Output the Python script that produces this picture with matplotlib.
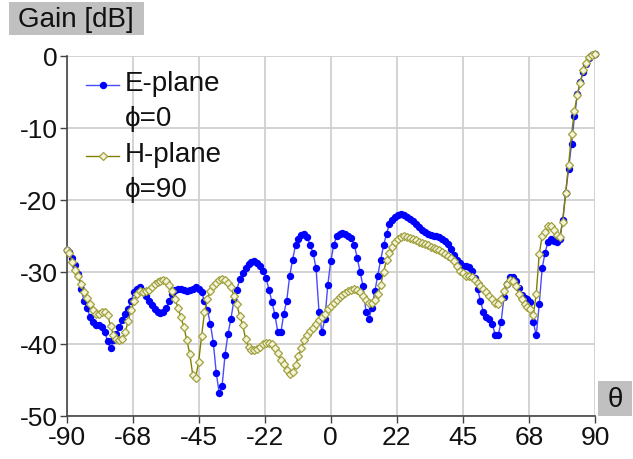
import matplotlib
matplotlib.use("Agg")
import matplotlib.pyplot as plt
from matplotlib.lines import Line2D
from matplotlib.patches import Rectangle
import numpy as np

plt.rcParams['font.family'] = ['Liberation Sans', 'DejaVu Sans']

theta = np.arange(-90, 91, 1)

e_plane = [
    -26.9, -27.2, -28.0, -29.0, -30.3, -32.4, -34.0, -35.0, -36.2, -37.0,   # -90..-81
    -37.3, -37.4, -37.6, -38.3, -39.6, -40.6, -39.5, -38.6, -37.7, -36.6,   # -80..-71
    -35.9, -35.1, -34.0, -32.8, -32.4, -32.1, -32.6, -33.3, -34.0, -34.6,   # -70..-61
    -35.1, -35.5, -35.7, -35.5, -35.0, -34.0, -33.0, -32.5, -32.3, -32.4,   # -60..-51
    -32.5, -32.6, -32.5, -32.3, -32.1, -32.3, -32.8, -34.0, -35.3, -37.2,   # -50..-41
    -39.8, -44.0, -46.8, -45.8, -41.5, -38.6, -36.5, -34.0, -32.5, -31.0,   # -40..-31
    -30.2, -29.4, -28.9, -28.6, -28.5, -28.7, -29.1, -29.8, -30.9, -32.5,   # -30..-21
    -34.2, -36.0, -38.4, -38.4, -35.8, -34.0, -30.6, -28.3, -26.3, -25.4,   # -20..-11
    -24.8, -24.7, -25.2, -26.3, -27.4, -29.5, -35.5, -38.4, -36.5, -31.8,   # -10..-1
    -28.5, -26.3, -25.0, -24.7, -24.6, -24.7, -25.0, -25.3, -26.2, -28.0,   # 0..9
    -30.0, -32.0, -35.5, -36.5, -35.0, -32.7, -30.5, -28.3, -26.3, -24.7,   # 10..19
    -23.3, -22.8, -22.3, -22.05, -21.95, -22.1, -22.3, -22.6, -22.9, -23.3, # 20..29
    -23.8, -24.2, -24.5, -24.7, -24.85, -24.95, -25.0, -25.15, -25.4, -25.7,  # 30..39
    -26.1, -26.8, -27.6, -28.3, -28.8, -29.1, -29.15, -29.3, -29.8, -30.8,  # 40..49
    -32.4, -34.0, -35.6, -36.2, -36.5, -37.2, -38.7, -38.8, -37.0, -33.5,   # 50..59
    -31.7, -30.7, -30.65, -31.2, -32.2, -33.2, -33.65, -33.7, -34.2, -37.0, # 60..69
    -38.8, -34.5, -29.5, -27.3, -25.8, -25.4, -25.7, -25.9, -25.4, -22.8,   # 70..79
    -19.0, -15.7, -12.2, -8.4, -5.3, -3.6, -2.2, -1.1, -0.3, 0.2,           # 80..89
    0.3,                                                                    # 90
]

h_plane = [
    -26.9, -27.4, -28.6, -29.7, -30.5, -31.7, -32.8, -33.6, -34.4, -35.3,   # -90..-81
    -35.9, -35.9, -35.5, -35.5, -36.0, -37.5, -38.8, -39.3, -39.5, -39.3,   # -80..-71
    -38.4, -36.8, -35.3, -34.0, -33.0, -32.6, -32.8, -32.7, -32.5, -32.1,   # -70..-61
    -31.7, -31.4, -31.2, -31.1, -31.3, -31.8, -32.7, -33.8, -35.0, -36.3,   # -60..-51
    -37.7, -39.5, -41.4, -44.3, -44.7, -42.5, -38.9, -35.6, -33.8, -32.6,   # -50..-41
    -32.0, -31.5, -31.1, -31.0, -31.1, -31.5, -32.1, -33.3, -34.5, -36.1,   # -40..-31
    -37.3, -39.3, -40.4, -40.8, -40.9, -40.7, -40.4, -40.0, -39.9, -39.8,   # -30..-21
    -40.0, -40.5, -41.3, -42.2, -42.8, -43.6, -44.1, -43.9, -42.9, -41.7,   # -20..-11
    -40.6, -39.5, -38.7, -38.2, -37.8, -37.2, -36.7, -36.2, -35.8, -35.2,   # -10..-1
    -34.7, -34.3, -33.9, -33.5, -33.2, -32.9, -32.7, -32.5, -32.4, -32.45,  # 0..9
    -32.8, -33.3, -33.9, -34.3, -34.3, -33.9, -33.0, -31.8, -30.0, -28.3,   # 10..19
    -27.3, -26.5, -25.9, -25.4, -25.1, -25.05, -25.15, -25.3, -25.4, -25.6, # 20..29
    -25.8, -25.95, -26.1, -26.3, -26.5, -26.65, -26.85, -27.0, -27.25, -27.5,  # 30..39
    -27.75, -28.0, -28.5, -29.2, -29.8, -30.2, -30.5, -30.6, -30.7, -31.1,  # 40..49
    -31.5, -32.0, -32.4, -32.8, -33.3, -33.75, -34.3, -34.5, -33.8, -32.6,  # 50..59
    -31.7, -31.1, -31.2, -31.9, -33.0, -33.8, -34.4, -34.8, -35.2, -36.0,   # 60..69
    -33.0, -27.5, -25.0, -24.4, -23.6, -23.6, -24.2, -24.9, -25.2, -23.1,   # 70..79
    -19.0, -15.2, -10.9, -7.6, -5.4, -3.7, -2.0, -1.0, -0.2, 0.1,           # 80..89
    0.3,                                                                    # 90
]

x_ticks = [-90, -67.5, -45, -22.5, 0, 22.5, 45, 67.5, 90]
x_tick_labels = ['-90', '-68', '-45', '-22', '0', '22', '45', '68', '90']
y_ticks = [0, -10, -20, -30, -40, -50]
y_tick_labels = ['0', '-10', '-20', '-30', '-40', '-50']
series_labels = [('E-plane', '\u03d5=0'), ('H-plane', '\u03d5=90')]

W, H = 633, 460
fig = plt.figure(figsize=(W / 100, H / 100), dpi=100)
ax = fig.add_axes([66.5 / W, 1 - 417 / H, (595 - 66.5) / W, (417 - 57) / H])

e_style = dict(color='#4a4aff', lw=1.0, marker='o', ms=4.3,
               mfc='#0000ff', mec='#0000ff')
h_style = dict(color='#808000', lw=1.0, marker='D', ms=3.7,
               mfc='#f4f4d8', mec='#a0a040', mew=0.9)

ax.plot(theta, e_plane, zorder=3, clip_on=False, **e_style)
ax.plot(theta, h_plane, zorder=4, clip_on=False, **h_style)

ax.set_xlim(-90, 90)
ax.set_ylim(-50, 0)
ax.set_xticks(x_ticks)
ax.set_xticklabels(x_tick_labels)
ax.set_yticks(y_ticks)
ax.set_yticklabels(y_tick_labels)
ax.tick_params(axis='both', labelsize=19, length=5, width=1, color='#444444',
               labelcolor='#111111', direction='out', pad=1.5)
ax.grid(True, color='#d0d0d0', lw=1.3)
ax.set_axisbelow(True)
for s in ['top', 'right']:
    ax.spines[s].set_visible(False)
for s in ['left', 'bottom']:
    ax.spines[s].set_color('#444444')
    ax.spines[s].set_linewidth(1.2)

# manual legend: handle beside first line of each two-line label
for (name, phi), style, y0 in zip(series_labels, [e_style, h_style], [84, 155]):
    fig.add_artist(Line2D([86 / W, 119 / W], [1 - (y0 + 2) / H] * 2,
                          color=style['color'], lw=style['lw']))
    fig.add_artist(Line2D([102.5 / W], [1 - (y0 + 2) / H], linestyle='none',
                          marker=style['marker'], ms=style['ms'],
                          mfc=style['mfc'], mec=style['mec'],
                          mew=style.get('mew', 1.0)))
    fig.text(125 / W, 1 - y0 / H, name, fontsize=20, ha='left', va='center',
             color='#111111')
    fig.text(125 / W, 1 - (y0 + 35) / H, phi, fontsize=20, ha='left',
             va='center', color='#111111')

# grey label boxes
fig.add_artist(Rectangle((9 / W, 1 - 36 / H), 135 / W, 33 / H,
                         transform=fig.transFigure, facecolor='#c0c0c0',
                         edgecolor='none', zorder=0))
fig.text(76 / W, 1 - 20 / H, 'Gain [dB]', fontsize=20, ha='center',
         va='center', color='#111111')
fig.add_artist(Rectangle((598 / W, 1 - 417 / H), 34 / W, 35 / H,
                         transform=fig.transFigure, facecolor='#c0c0c0',
                         edgecolor='none', zorder=0))
fig.text(615 / W, 1 - 400 / H, '\u03b8', fontsize=20, ha='center',
         va='center', color='#111111')

fig.savefig('out.png', dpi=100)
